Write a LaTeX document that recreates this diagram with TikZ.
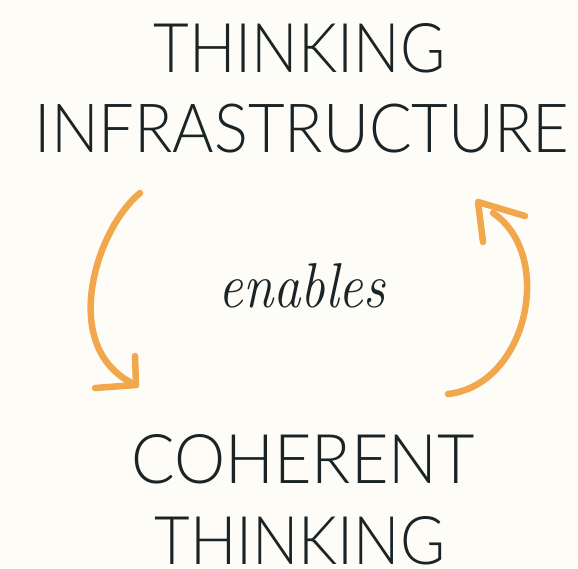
\documentclass[tikz,border=0pt]{standalone}
\usepackage{graphicx}
\usepackage{fontspec}
\newfontfamily\capsfont{Lato}[UprightFont=* Light]
\definecolor{bgcream}{HTML}{FDFCF7}
\definecolor{inkdark}{HTML}{1A2426}
\definecolor{arroworange}{HTML}{F2A74C}
\tikzset{
  caplabel/.style={anchor=base, inner sep=0pt, text=inkdark},
  handarrow/.style={draw=arroworange, line width=6.5pt, line cap=round, line join=round},
}
\newcommand{\capstext}[3]{\resizebox{#1pt}{#2pt}{\fontsize{66}{66}\selectfont\capsfont #3}}
\begin{document}
\begin{tikzpicture}[x=1pt, y=-1pt]
\fill[bgcream] (0,0) rectangle (578,569);
\useasboundingbox (0,0) rectangle (578,569);

\node[caplabel] (thinkA) at (299.5,72.5) {\capstext{292}{49}{THINKING}};
\node[caplabel] (infra) at (302,152.5) {\capstext{535}{48.5}{INFRASTRUCTURE}};
\node[caplabel] (enables) at (302,307) {\resizebox{167pt}{44pt}{\fontsize{60}{60}\selectfont\itshape enables}};
\node[caplabel] (coherent) at (303,483) {\capstext{343}{49}{COHERENT}};
\node[caplabel] (thinkB) at (300,564) {\capstext{291}{48}{THINKING}};

% left arrow (from infrastructure down to coherent thinking)
\coordinate (lstart) at (140,193);
\coordinate (ltip) at (136,385);
\coordinate (lbarbA) at (95,388);
\coordinate (lbarbB) at (135,356);
\draw[handarrow] (lstart) .. controls (95,230) and (58,350) .. (ltip);
\draw[handarrow] (lbarbA) -- (ltip) -- (lbarbB);

% right arrow (from coherent thinking up to infrastructure)
\coordinate (rstart) at (448,394);
\coordinate (rend) at (493,213);
\coordinate (rtip) at (478,202);
\coordinate (rbarbA) at (525,216);
\coordinate (rbarbB) at (483,242);
\draw[handarrow] (rstart) .. controls (528,385) and (555,255) .. (rend);
\draw[handarrow] (rbarbA) -- (rtip) -- (rbarbB);
\end{tikzpicture}
\end{document}
